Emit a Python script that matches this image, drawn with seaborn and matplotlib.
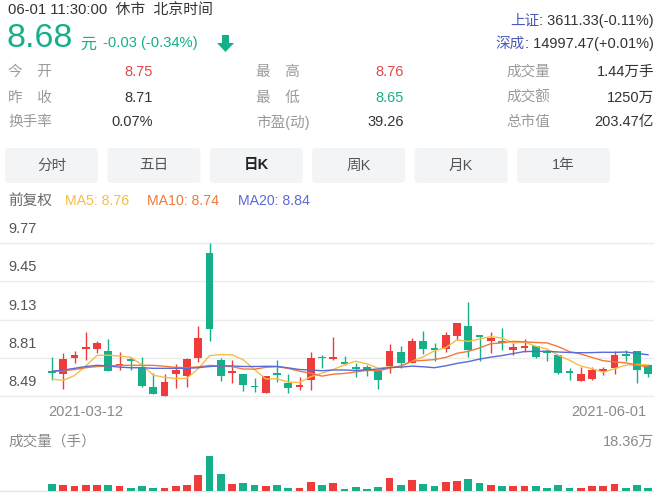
import matplotlib
matplotlib.use("Agg")
import matplotlib.pyplot as plt
from matplotlib.patches import FancyBboxPatch, Polygon
import numpy as np
import pandas as pd
import seaborn as sns

# ---------------- data ----------------
date_labels = ["2021-03-12", "2021-06-01"]
opens = [8.70, 8.68, 8.81, 8.885, 8.885, 8.873, 8.75, 8.79, 8.73, 8.572,
         8.494, 8.676, 8.662, 8.81, 9.69, 8.795, 8.684, 8.678, 8.57, 8.522,
         8.672, 8.60, 8.568, 8.628, 8.812, 8.801, 8.778, 8.725, 8.734, 8.712,
         8.748, 8.865, 8.773, 8.949, 8.882, 8.885, 8.996, 9.074, 8.997, 8.949,
         8.937, 8.879, 8.898, 8.907, 8.86, 8.837, 8.69, 8.622, 8.636, 8.703,
         8.726, 8.833, 8.873, 8.75]
highs = [8.82, 8.85, 8.87, 9.03, 8.95, 8.97, 8.865, 8.823, 8.823, 8.69,
         8.678, 8.762, 8.81, 9.074, 9.766, 8.815, 8.795, 8.68, 8.647, 8.66,
         8.795, 8.678, 8.656, 8.857, 8.837, 8.982, 8.829, 8.768, 8.754, 8.72,
         8.929, 8.907, 8.977, 9.038, 8.94, 9.024, 9.103, 9.278, 9.00, 9.024,
         9.06, 8.94, 8.969, 8.913, 8.879, 8.837, 8.726, 8.734, 8.734, 8.74,
         8.873, 8.879, 8.873, 8.76]
lows = [8.63, 8.55, 8.77, 8.795, 8.85, 8.70, 8.71, 8.71, 8.572, 8.508,
        8.494, 8.564, 8.572, 8.781, 8.954, 8.616, 8.60, 8.536, 8.53, 8.522,
        8.614, 8.522, 8.546, 8.546, 8.726, 8.795, 8.753, 8.656, 8.662, 8.553,
        8.689, 8.726, 8.768, 8.846, 8.787, 8.865, 8.963, 8.823, 8.79, 8.851,
        8.879, 8.837, 8.865, 8.81, 8.79, 8.676, 8.628, 8.622, 8.628, 8.67,
        8.678, 8.787, 8.605, 8.65]
closes = [8.69, 8.80, 8.84, 8.90, 8.935, 8.70, 8.76, 8.785, 8.58, 8.51,
          8.61, 8.71, 8.80, 8.98, 9.05, 8.66, 8.70, 8.59, 8.566, 8.66,
          8.668, 8.56, 8.575, 8.81, 8.808, 8.82, 8.76, 8.72, 8.70, 8.63,
          8.87, 8.77, 8.95, 8.885, 8.879, 9.00, 9.10, 8.88, 8.99, 8.98,
          8.935, 8.90, 8.915, 8.82, 8.855, 8.685, 8.685, 8.675, 8.71, 8.705,
          8.835, 8.83, 8.71, 8.68]
ma5 = [8.635, 8.625, 8.665, 8.745, 8.833, 8.835, 8.827, 8.817, 8.753, 8.668,
       8.650, 8.640, 8.642, 8.722, 8.830, 8.840, 8.838, 8.796, 8.714, 8.636,
       8.638, 8.610, 8.607, 8.655, 8.685, 8.715, 8.755, 8.784, 8.762, 8.726,
       8.736, 8.738, 8.784, 8.821, 8.871, 8.897, 8.963, 8.949, 8.970, 8.990,
       8.977, 8.937, 8.944, 8.910, 8.885, 8.835, 8.792, 8.744, 8.722, 8.692,
       8.722, 8.751, 8.758, 8.752]
ma10 = [8.700, 8.705, 8.715, 8.730, 8.740, 8.745, 8.750, 8.750, 8.750, 8.750,
        8.742, 8.733, 8.730, 8.737, 8.749, 8.745, 8.739, 8.719, 8.718, 8.733,
        8.739, 8.724, 8.701, 8.684, 8.660, 8.676, 8.682, 8.695, 8.708, 8.705,
        8.725, 8.746, 8.784, 8.791, 8.798, 8.816, 8.850, 8.866, 8.895, 8.930,
        8.937, 8.950, 8.946, 8.940, 8.937, 8.906, 8.864, 8.844, 8.816, 8.788,
        8.778, 8.771, 8.751, 8.737]
ma20 = [8.700, 8.710, 8.725, 8.740, 8.750, 8.745, 8.735, 8.730, 8.730, 8.725,
        8.725, 8.725, 8.725, 8.730, 8.740, 8.745, 8.745, 8.740, 8.740, 8.742,
        8.741, 8.729, 8.715, 8.711, 8.705, 8.711, 8.711, 8.707, 8.713, 8.719,
        8.732, 8.735, 8.743, 8.738, 8.730, 8.746, 8.766, 8.781, 8.802, 8.818,
        8.831, 8.848, 8.865, 8.866, 8.868, 8.861, 8.857, 8.855, 8.856, 8.859,
        8.858, 8.861, 8.849, 8.838]
volumes = [3.53, 3.0, 2.47, 3.0, 3.0, 3.0, 2.47, 1.59, 2.47, 1.59,
           1.59, 2.47, 3.0, 8.65, 18.36, 9.18, 3.53, 4.24, 3.0, 2.47,
           3.0, 1.59, 1.59, 4.77, 3.0, 4.24, 1.24, 2.12, 1.24, 2.12,
           7.06, 3.0, 5.65, 3.53, 2.47, 4.77, 5.3, 6.53, 4.24, 3.0,
           2.47, 2.47, 2.47, 2.47, 1.59, 3.0, 1.59, 1.59, 2.47, 2.47,
           3.88, 1.59, 3.0, 1.44]
y_ticks = [8.49, 8.81, 9.13, 9.45, 9.77]
vol_max = 18.36

header_rows = [
    ("今　开", "8.75", "最　高", "8.76", "成交量", "1.44万手"),
    ("昨　收", "8.71", "最　低", "8.65", "成交额", "1250万"),
    ("换手率", "0.07%", "市盈(动)", "39.26", "总市值", "203.47亿"),
]
tab_labels = ["分时", "五日", "日K", "周K", "月K", "1年"]

# ---------------- style ----------------
sns.set_style("white")
plt.rcParams["font.family"] = ["Liberation Sans", "Noto Sans CJK SC", "DejaVu Sans"]

GREEN = "#15b08a"
RED = "#f03b3b"
RED_T = "#e04848"
DARK = "#333333"
GRAY = "#9a9a9a"
BLUE = "#4a5cb8"
C5, C10, C20 = "#f6bd47", "#f07a3c", "#5a6ad6"

W, H = 662, 500
fig = plt.figure(figsize=(W / 100, H / 100), dpi=100)
fig.patch.set_facecolor("white")
tr = fig.dpi_scale_trans


def P(x, y):
    return (x / 100.0, (H - y) / 100.0)


def txt(x, y, s, size, color, ha="left", weight="normal"):
    return fig.text(*P(x, y), s, transform=tr, fontsize=size, color=color,
                    ha=ha, va="center", fontweight=weight)


# ---------------- header ----------------
txt(8, 10, "06-01 11:30:00  休市  北京时间", 10.7, DARK)
txt(6, 39, "8.68", 24.5, GREEN)
txt(80, 44, "元", 11.5, GREEN)
txt(103, 43, "-0.03 (-0.34%)", 10.6, GREEN)
arrow = Polygon([P(222, 35), P(229, 35), P(229, 43), P(234, 43), P(225.5, 52),
                 P(217, 43), P(222, 43)], closed=True, transform=tr,
                fc=GREEN, ec="none")
fig.add_artist(arrow)

renderer = fig.canvas.get_renderer()
for yy, lab, val in [(21, "上证", ": 3611.33(-0.11%)"), (44, "深成", ": 14997.47(+0.01%)")]:
    t = txt(654, yy, val, 10.5, DARK, ha="right")
    w = t.get_window_extent(renderer).width
    txt(654 - w, yy, lab, 10.5, BLUE, ha="right")

row_y = [72, 98, 122]
val_colors = [(RED_T, RED_T, DARK), (DARK, GREEN, DARK), (DARK, DARK, DARK)]
for (l1, v1, l2, v2, l3, v3), yy, cols in zip(header_rows, row_y, val_colors):
    txt(8, yy, l1, 10.5, GRAY)
    txt(153, yy, v1, 10.5, cols[0], ha="right")
    txt(256, yy, l2, 10.5, GRAY)
    txt(404, yy, v2, 10.5, cols[1], ha="right")
    txt(506, yy, l3, 10.5, GRAY)
    txt(654, yy, v3, 10.5, cols[2], ha="right")

# tabs
for k, lab in enumerate(tab_labels):
    x0 = 5 + k * 102.4
    box = FancyBboxPatch(P(x0, 183), 0.93, 0.35,
                         boxstyle="round,pad=0,rounding_size=0.04",
                         transform=tr, fc="#f3f4f6", ec="none")
    fig.add_artist(box)
    bold = lab == "日K"
    txt(x0 + 46.5, 165.5, lab, 10.5, "#222222" if bold else "#555555",
        ha="center", weight="bold" if bold else "normal")

txt(8, 201, "前复权", 10.5, "#666666")
txt(65, 201, "MA5: 8.76", 10.2, C5)
txt(147, 201, "MA10: 8.74", 10.2, C10)
txt(238, 201, "MA20: 8.84", 10.2, C20)

# ---------------- candlestick pane ----------------
n = len(closes)
idx = np.arange(n)
x0v, step = 52.0, 11.25
xlim = (-x0v / step, (W - x0v) / step)

ax = fig.add_axes([0, (H - 396.5) / H, 1, (396.5 - 243) / H])
ax.set_xlim(*xlim)
ax.set_ylim(y_ticks[0], y_ticks[-1])
ax.axis("off")
for lv in y_ticks:
    ax.axhline(lv, xmin=0, xmax=653 / W, color="#ececec", lw=1, zorder=0, clip_on=False)
    ax.annotate(f"{lv:.2f}", xy=(0, lv), xycoords=("axes fraction", "data"),
                xytext=(8, 14), textcoords="offset pixels", ha="left", va="center",
                fontsize=10.5, color="#555555")

o = np.array(opens); c = np.array(closes)
hi = np.array(highs); lo = np.array(lows)
colors = [RED if cc >= oo else GREEN for oo, cc in zip(o, c)]
ax.vlines(idx, lo, hi, colors=colors, lw=1.0, zorder=2, clip_on=False)
body_h = np.maximum(np.abs(c - o), 0.015)
ax.bar(idx, body_h, bottom=np.minimum(o, c), width=0.71, color=colors,
       linewidth=0, zorder=2, clip_on=False)

for vals, col in [(ma5, C5), (ma10, C10), (ma20, C20)]:
    sns.lineplot(x=idx, y=vals, ax=ax, color=col, linewidth=1.0,
                 estimator=None, sort=False, zorder=3)
ax.set_xlim(*xlim)
ax.set_ylim(y_ticks[0], y_ticks[-1])
ax.axis("off")

ax.annotate(date_labels[0], xy=(0, y_ticks[0]), xycoords="data",
            xytext=(-4, -16), textcoords="offset pixels", ha="left", va="center",
            fontsize=10.5, color="#8a8a8a")
ax.annotate(date_labels[1], xy=(n - 1, y_ticks[0]), xycoords="data",
            xytext=(-2, -16), textcoords="offset pixels", ha="right", va="center",
            fontsize=10.5, color="#8a8a8a")

# ---------------- volume pane ----------------
txt(8, 442, "成交量（手）", 10.5, "#8a8a8a")
txt(654, 442, f"{vol_max:.2f}万", 10.5, "#8a8a8a", ha="right")

ax2 = fig.add_axes([0, (H - 491) / H, 1, (491 - 456) / H])
df = pd.DataFrame({"i": idx, "vol": volumes, "k": [str(i) for i in idx]})
sns.barplot(data=df, x="i", y="vol", hue="k",
            palette=dict(zip(df["k"], colors)), dodge=False, legend=False,
            width=0.71, saturation=1, errorbar=None, ax=ax2, linewidth=0)
ax2.axhline(0, xmin=0, xmax=653 / W, color="#e6e6e6", lw=1, zorder=0, clip_on=False)
ax2.set_xlim(*xlim)
ax2.set_ylim(0, vol_max)
ax2.axis("off")

fig.savefig("out.png", dpi=100, facecolor="white")
